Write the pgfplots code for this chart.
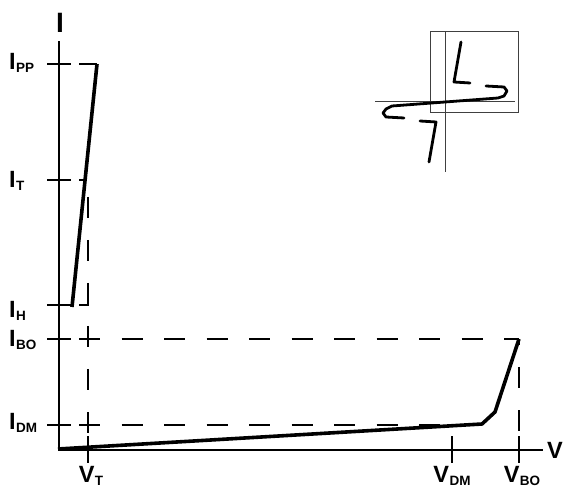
\documentclass[border=0pt]{standalone}
\usepackage{pgfplots}
\pgfplotsset{compat=1.18}
\usepackage{fontspec}
\setmainfont{Liberation Sans}
\newcommand{\lab}[2]{{\bfseries\fontsize{23.5}{23.5}\selectfont #1\kern0.5pt\raisebox{-3pt}{\fontsize{13.5}{13.5}\selectfont #2}}}
\begin{document}
\begin{tikzpicture}
\begin{axis}[
  width=564pt, height=487pt, scale only axis,
  xmin=0, xmax=564, ymin=0, ymax=487,
  axis lines=none, clip=false,
]
\coordinate (bl) at (axis cs:0,0);
\coordinate (tr) at (axis cs:564,487);
% axes
\addplot[black, line width=1.8pt] coordinates {(59,37) (59,446)};
\addplot[black, line width=1.8pt] coordinates {(58,37) (543,37)};
% y ticks
\addplot[black, line width=1.6pt] coordinates {(47,423) (71,423)};
\addplot[black, line width=1.6pt] coordinates {(47,307) (71,307)};
\addplot[black, line width=1.6pt] coordinates {(47,182) (71,182)};
\addplot[black, line width=1.6pt] coordinates {(47,148) (71,148)};
\addplot[black, line width=1.6pt] coordinates {(47,62) (71,62)};
% x ticks
\addplot[black, line width=1.6pt] coordinates {(88,51) (88,24)};
\addplot[black, line width=1.6pt] coordinates {(452,51) (452,24)};
\addplot[black, line width=1.6pt] coordinates {(519,51) (519,24)};
% dashed guide lines
\addplot[black, line width=1.8pt] coordinates {(79,423) (97,423)};
\addplot[black, line width=1.8pt] coordinates {(79,307) (86,307)};
\addplot[black, line width=1.8pt, line join=miter] coordinates {(79,182) (88,182) (88,204)};
\addplot[black, line width=1.8pt, dash pattern=on 21pt off 22pt] coordinates {(88,290) (88,54)};
\addplot[black, line width=1.8pt, dash pattern=on 21pt off 21.5pt] coordinates {(79,148) (519,148)};
\addplot[black, line width=1.8pt, dash pattern=on 21pt off 22pt, dash phase=15pt] coordinates {(519,148) (519,54)};
\addplot[black, line width=1.8pt, dash pattern=on 21pt off 21.5pt] coordinates {(79,62) (440,62)};
% characteristic
\addplot[black, line width=3.6pt, line join=round] coordinates {(72,180) (97,423)};
\addplot[black, line width=3.6pt, line join=round] coordinates {(58,38) (482,63) (495,75) (519,148)};
% inset
\addplot[black!75, line width=1pt] coordinates {(430,455) (518,455) (518,374) (430,374) (430,455)};
\addplot[black!75, line width=1pt] coordinates {(445,455) (445,315)};
\addplot[black!75, line width=1pt] coordinates {(375,385) (515,385)};
\addplot[black, line width=2.8pt, line join=round, line cap=round] coordinates {(461,445) (454,405) (470,404)};
\addplot[black, line width=2.8pt, line join=round, line cap=round] coordinates {(486,401) (504,400) (507,396) (504,391) (498,389) (392,381) (386,378) (383,374) (386,370) (404,369)};
\addplot[black, line width=2.8pt, line join=round, line cap=round] coordinates {(420,366) (436,365) (429,325)};
% labels
\node[anchor=base, inner sep=0pt, font=\bfseries\fontsize{28}{28}\selectfont] at (axis cs:60,454) {I};
\node[anchor=base west, font=\bfseries\fontsize{23.5}{23.5}\selectfont, inner sep=0pt] at (axis cs:547,29) {V};
\node[anchor=base west, inner sep=0pt] at (axis cs:9,417) {\lab{I}{PP}};
\node[anchor=base west, inner sep=0pt] at (axis cs:9,299) {\lab{I}{T}};
\node[anchor=base west, inner sep=0pt] at (axis cs:9,169) {\lab{I}{H}};
\node[anchor=base west, inner sep=0pt] at (axis cs:9,140) {\lab{I}{BO}};
\node[anchor=base west, inner sep=0pt] at (axis cs:9,58) {\lab{I}{DM}};
\node[anchor=base, inner sep=0pt] at (axis cs:91,5) {\lab{V}{T}};
\node[anchor=base, inner sep=0pt] at (axis cs:452,5) {\lab{V}{DM}};
\node[anchor=base, inner sep=0pt] at (axis cs:522,5) {\lab{V}{BO}};
\end{axis}
\pgfresetboundingbox
\path (bl) rectangle (tr);
\end{tikzpicture}
\end{document}
